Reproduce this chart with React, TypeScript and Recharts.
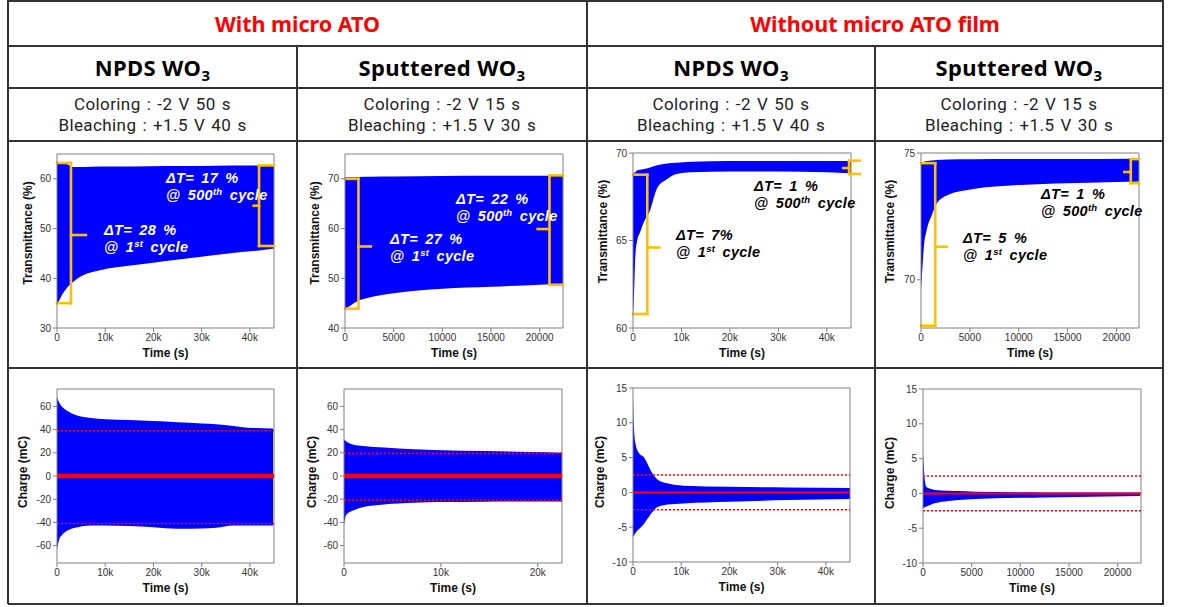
import React from 'react'
import { ComposedChart, Area, XAxis, YAxis, ReferenceLine } from 'recharts'

const BLUE = '#0000ff'
const GOLD = '#ffc000'
const RED = '#ff0000'
const AXIS = '#808080'
const AX_FONT = '"Liberation Sans", Arial, sans-serif'
const TBL_FONT = '"Noto Sans", "Open Sans", sans-serif'
const COND_FONT = 'Roboto, "Noto Sans", sans-serif'

// --- transmittance (%) vs time (s) : lower / upper envelope of the cycling band ---
const timeNpdsAto = [0, 300, 1000, 2000, 3400, 5400, 8900, 15700, 22600, 29500, 36400, 41900, 45000]
const lowNpdsAto = [35.0, 35.3, 36.6, 38.0, 39.3, 40.6, 41.6, 42.6, 43.5, 44.3, 45.1, 45.6, 46.0]
const highNpdsAto = [63.3, 63.3, 63.2, 63.0, 62.4, 62.4, 62.5, 62.5, 62.6, 62.6, 62.7, 62.7, 62.7]

const timeSputAto = [0, 100, 520, 1380, 2600, 5000, 10000, 15000, 20000, 22400]
const lowSputAto = [43.8, 43.9, 44.5, 45.5, 46.2, 47.0, 47.9, 48.3, 48.7, 48.9]
const highSputAto = [70.3, 70.3, 70.3, 70.35, 70.4, 70.45, 70.55, 70.6, 70.65, 70.7]

const timeNpds = [0, 150, 500, 800, 1500, 2500, 3200, 5000, 7000, 9000, 12000, 20000, 30000, 40000, 45000]
const lowNpds = [60.8, 61.5, 64.2, 64.9, 65.5, 66.2, 66.5, 68.0, 68.5, 68.8, 68.9, 68.95, 68.95, 68.9, 68.85]
const highNpds = [68.8, 68.85, 68.9, 69.0, 69.05, 69.1, 69.15, 69.3, 69.4, 69.45, 69.5, 69.55, 69.55, 69.55, 69.55]

const timeSput = [0, 100, 270, 610, 1100, 1600, 2800, 5200, 10100, 15000, 21100, 22300]
const lowSput = [69.6, 70.2, 71.2, 72.0, 72.55, 73.0, 73.35, 73.57, 73.74, 73.81, 73.87, 73.88]
const highSput = [74.6, 74.6, 74.65, 74.68, 74.7, 74.72, 74.74, 74.75, 74.76, 74.76, 74.77, 74.77]

// --- charge (mC) vs time (s) ---
const timeQNpdsAto = [0, 500, 1000, 2000, 4000, 7000, 10000, 15000, 20000, 25000, 30000, 33000, 36500, 40500, 44800]
const lowQNpdsAto = [-62.7, -54, -51, -47.5, -44.5, -42.6, -42.6, -43.2, -44.1, -45.4, -45.2, -44.6, -42.6, -42.6, -42.6]
const highQNpdsAto = [68.2, 63, 60.0, 56.5, 52.4, 50.0, 49.0, 48.2, 47.4, 46.3, 45.3, 44.6, 43.2, 41.4, 40.9]

const timeQSputAto = [0, 200, 600, 1000, 2000, 4100, 7200, 10000, 14400, 19200, 22500]
const lowQSputAto = [-42.6, -34, -31, -29.5, -26.8, -24.5, -23.0, -22.5, -22.1, -21.9, -21.9]
const highQSputAto = [31.7, 30.0, 28.0, 27.0, 25.9, 24.5, 23.0, 22.2, 21.6, 20.7, 20.1]

const timeQNpds = [0, 200, 550, 1200, 2300, 3000, 3700, 5000, 7100, 10500, 20000, 32000, 45000]
const lowQNpds = [-6.45, -6.2, -5.8, -5.3, -4.5, -3.8, -3.1, -2.15, -1.75, -1.58, -1.34, -1.1, -0.96]
const highQNpds = [13.4, 9.3, 6.9, 5.7, 5.0, 4.1, 3.1, 1.9, 1.3, 0.96, 0.81, 0.72, 0.62]

const timeQSput = [0, 170, 340, 860, 1200, 2600, 3600, 5300, 10500, 12200, 22300]
const lowQSput = [-2.15, -2.0, -1.9, -1.6, -1.43, -1.1, -0.95, -0.81, -0.62, -0.58, -0.38]
const highQSput = [5.7, 2.15, 0.96, 0.62, 0.5, 0.38, 0.33, 0.25, 0.16, 0.14, 0.14]

// axis ticks
const ticks45k = [0, 10000, 20000, 30000, 40000]
const ticks22k = [0, 5000, 10000, 15000, 20000]
const ticks22kK = [0, 10000, 20000]
const chargeTicksBig = [-60, -40, -20, 0, 20, 40, 60]
const chargeTicksSmall = [-10, -5, 0, 5, 10, 15]

const kFmt = (v: number) => (v === 0 ? '0' : `${v / 1000}k`)
const plainFmt = (v: number) => String(v)

const rows = (t: number[], lo: number[], hi: number[]) => t.map((x, i) => ({ t: x, band: [lo[i], hi[i]] }))

type Bracket = { x: number; top: number; bottom: number; mid: number; arm: number; tip: number }

// yellow braces (data coords)
const bracesNpdsAto: Bracket[] = [
  { x: 2900, top: 63.2, bottom: 35.0, mid: 48.7, arm: 0, tip: 6000 },
  { x: 41900, top: 62.7, bottom: 46.5, mid: 54.6, arm: 45000, tip: 40800 },
]
const bracesSputAto: Bracket[] = [
  { x: 1380, top: 70.0, bottom: 43.9, mid: 56.4, arm: 0, tip: 2650 },
  { x: 21010, top: 70.7, bottom: 48.7, mid: 59.9, arm: 22400, tip: 19800 },
]
const bracesNpds: Bracket[] = [
  { x: 2950, top: 68.76, bottom: 60.8, mid: 64.6, arm: 0, tip: 5400 },
  { x: 44600, top: 69.56, bottom: 68.8, mid: 69.14, arm: 46800, tip: 43400 },
]
const bracesSput: Bracket[] = [
  { x: 1455, top: 74.6, bottom: 68.19, mid: 71.3, arm: 0, tip: 2640 },
  { x: 21460, top: 74.76, bottom: 73.81, mid: 74.25, arm: 22300, tip: 20800 },
]

type PanelCfg = {
  plot: { left: number; top: number; width: number; height: number }
  data: { t: number; band: number[] }[]
  xMax: number
  xTicks: number[]
  xFmt: (v: number) => string
  yDomain: [number, number]
  yTicks: number[]
  yTitle: string
  titleGap: number
  titleShift: number
  braces?: Bracket[]
  zeroWidth?: number
  dotted?: number[]
}

const ML = 50
const MT = 10

function Panel({ cfg }: { cfg: PanelCfg }) {
  const { plot } = cfg
  const w = plot.width
  const h = plot.height
  const yMax = cfg.yDomain[1]
  const yTitle = () => (
    <text
      x={ML - cfg.titleGap}
      y={MT + h / 2 + cfg.titleShift}
      transform={`rotate(-90 ${ML - cfg.titleGap} ${MT + h / 2 + cfg.titleShift})`}
      textAnchor="middle"
      dominantBaseline="central"
      fontSize={12}
      fontWeight="bold"
      fontFamily={AX_FONT}
      fill="#111"
    >
      {cfg.yTitle}
    </text>
  )
  const xTitle = () => (
    <text
      x={ML + w / 2}
      y={MT + h + 25}
      textAnchor="middle"
      dominantBaseline="central"
      fontSize={12}
      fontWeight="bold"
      fontFamily={AX_FONT}
      fill="#111"
    >
      Time (s)
    </text>
  )
  const tickStyle = { fontSize: 10, fill: '#333', fontFamily: AX_FONT }
  const brace = { stroke: GOLD, strokeWidth: 2.6, strokeLinecap: 'square' as const, ifOverflow: 'visible' as const }
  return (
    <div style={{ position: 'absolute', left: plot.left - ML, top: plot.top - MT }}>
      <ComposedChart
        width={w + ML + 20}
        height={h + MT + 40}
        data={cfg.data}
        margin={{ top: MT, right: 20, bottom: 0, left: 0 }}
      >
        <XAxis
          dataKey="t"
          type="number"
          domain={[0, cfg.xMax]}
          ticks={cfg.xTicks}
          tickFormatter={cfg.xFmt}
          allowDataOverflow
          height={40}
          stroke={AXIS}
          tick={tickStyle}
          tickSize={4}
          tickMargin={2}
          label={xTitle}
        />
        <YAxis
          type="number"
          domain={cfg.yDomain}
          ticks={cfg.yTicks}
          allowDataOverflow
          width={ML}
          stroke={AXIS}
          tick={tickStyle}
          tickSize={4}
          tickMargin={2}
          label={yTitle}
        />
        <Area
          dataKey="band"
          type="monotone"
          fill={BLUE}
          fillOpacity={1}
          stroke="none"
          isAnimationActive={false}
        />
        <ReferenceLine x={cfg.xMax} stroke={AXIS} />
        <ReferenceLine y={yMax} stroke={AXIS} />
        {cfg.dotted?.map((v) => (
          <ReferenceLine key={`d${v}`} y={v} stroke={RED} strokeWidth={1.6} strokeDasharray="2 2" />
        ))}
        {cfg.zeroWidth ? <ReferenceLine y={0} stroke={RED} strokeWidth={cfg.zeroWidth} /> : null}
        {cfg.braces?.map((b, i) => [
          <ReferenceLine key={`a${i}`} segment={[{ x: b.arm, y: b.top }, { x: b.x, y: b.top }]} {...brace} />,
          <ReferenceLine key={`v${i}`} segment={[{ x: b.x, y: b.top }, { x: b.x, y: b.bottom }]} {...brace} />,
          <ReferenceLine key={`b${i}`} segment={[{ x: b.arm, y: b.bottom }, { x: b.x, y: b.bottom }]} {...brace} />,
          <ReferenceLine key={`m${i}`} segment={[{ x: b.x, y: b.mid }, { x: b.tip, y: b.mid }]} {...brace} />,
        ])}
      </ComposedChart>
    </div>
  )
}

const panels: PanelCfg[] = [
  {
    plot: { left: 57, top: 154, width: 217, height: 174 },
    data: rows(timeNpdsAto, lowNpdsAto, highNpdsAto),
    xMax: 45000, xTicks: ticks45k, xFmt: kFmt,
    yDomain: [30, 65], yTicks: [30, 40, 50, 60],
    yTitle: 'Transmittance (%)', titleGap: 29, titleShift: -8,
    braces: bracesNpdsAto,
  },
  {
    plot: { left: 345, top: 154, width: 218, height: 174 },
    data: rows(timeSputAto, lowSputAto, highSputAto),
    xMax: 22400, xTicks: ticks22k, xFmt: plainFmt,
    yDomain: [40, 75], yTicks: [40, 50, 60, 70],
    yTitle: 'Transmittance (%)', titleGap: 30, titleShift: -8,
    braces: bracesSputAto,
  },
  {
    plot: { left: 633, top: 153, width: 218, height: 175 },
    data: rows(timeNpds, lowNpds, highNpds),
    xMax: 45000, xTicks: ticks45k, xFmt: kFmt,
    yDomain: [60, 70], yTicks: [60, 65, 70],
    yTitle: 'Transmittance (%)', titleGap: 30, titleShift: -9,
    braces: bracesNpds,
  },
  {
    plot: { left: 921, top: 153, width: 218, height: 175 },
    data: rows(timeSput, lowSput, highSput),
    xMax: 22300, xTicks: ticks22k, xFmt: plainFmt,
    yDomain: [68.1, 75], yTicks: [70, 75],
    yTitle: 'Transmittance (%)', titleGap: 31, titleShift: -9,
    braces: bracesSput,
  },
  {
    plot: { left: 57, top: 389, width: 217, height: 174 },
    data: rows(timeQNpdsAto, lowQNpdsAto, highQNpdsAto),
    xMax: 45000, xTicks: ticks45k, xFmt: kFmt,
    yDomain: [-75, 75], yTicks: chargeTicksBig,
    yTitle: 'Charge (mC)', titleGap: 34, titleShift: -4,
    zeroWidth: 4.5, dotted: [39, -41],
  },
  {
    plot: { left: 344, top: 389, width: 218, height: 174 },
    data: rows(timeQSputAto, lowQSputAto, highQSputAto),
    xMax: 22500, xTicks: ticks22kK, xFmt: kFmt,
    yDomain: [-75, 75], yTicks: chargeTicksBig,
    yTitle: 'Charge (mC)', titleGap: 32, titleShift: -4,
    zeroWidth: 4.5, dotted: [19.5, -21],
  },
  {
    plot: { left: 633, top: 388, width: 217, height: 174 },
    data: rows(timeQNpds, lowQNpds, highQNpds),
    xMax: 45000, xTicks: ticks45k, xFmt: kFmt,
    yDomain: [-10, 15], yTicks: chargeTicksSmall,
    yTitle: 'Charge (mC)', titleGap: 33, titleShift: -3,
    zeroWidth: 2, dotted: [2.5, -2.5],
  },
  {
    plot: { left: 923, top: 389, width: 218, height: 174 },
    data: rows(timeQSput, lowQSput, highQSput),
    xMax: 22400, xTicks: ticks22k, xFmt: plainFmt,
    yDomain: [-10, 15], yTicks: chargeTicksSmall,
    yTitle: 'Charge (mC)', titleGap: 33, titleShift: -3,
    zeroWidth: 2, dotted: [2.5, -2.5],
  },
]

type NoteCfg = { x: number; base: number; color: string; delta: string; nth: string; sup: string }

const notes: NoteCfg[] = [
  { x: 166, base: 183, color: '#fff', delta: 'ΔT= 17 %', nth: '500', sup: 'th' },
  { x: 104, base: 235, color: '#fff', delta: 'ΔT= 28 %', nth: '1', sup: 'st' },
  { x: 456, base: 204, color: '#fff', delta: 'ΔT= 22 %', nth: '500', sup: 'th' },
  { x: 390, base: 244, color: '#fff', delta: 'ΔT= 27 %', nth: '1', sup: 'st' },
  { x: 754, base: 191, color: '#000', delta: 'ΔT= 1 %', nth: '500', sup: 'th' },
  { x: 676, base: 240, color: '#000', delta: 'ΔT= 7%', nth: '1', sup: 'st' },
  { x: 1041, base: 199, color: '#000', delta: 'ΔT= 1 %', nth: '500', sup: 'th' },
  { x: 963, base: 243, color: '#000', delta: 'ΔT= 5 %', nth: '1', sup: 'st' },
]

const NOTE_SIZE = 14.5

function Note({ n }: { n: NoteCfg }) {
  const s: React.CSSProperties = {
    position: 'absolute',
    left: n.x,
    fontFamily: AX_FONT,
    fontWeight: 'bold',
    fontStyle: 'italic',
    fontSize: NOTE_SIZE,
    lineHeight: '16px',
    wordSpacing: 3,
    letterSpacing: 0.3,
    color: n.color,
    whiteSpace: 'pre',
  }
  return (
    <>
      <div style={{ ...s, top: n.base - 13 }}>{n.delta}</div>
      <div style={{ ...s, top: n.base + 4 }}>
        {'@ ' + n.nth}
        <span style={{ fontSize: 9.5, position: 'relative', top: -5 }}>{n.sup}</span>
        {' cycle'}
      </div>
    </>
  )
}

const LINE = '#333'
const X_EDGES = [8, 297, 587, 875, 1163]
const Y_EDGES = [1, 46, 88, 141, 368, 604]

const groupTitles = ['With micro ATO', 'Without micro ATO film']
const filmNames = ['NPDS', 'Sputtered', 'NPDS', 'Sputtered']
const coloring = ['Coloring : -2 V 50 s', 'Coloring : -2 V 15 s', 'Coloring : -2 V 50 s', 'Coloring : -2 V 15 s']
const bleaching = ['Bleaching : +1.5 V 40 s', 'Bleaching : +1.5 V 30 s', 'Bleaching : +1.5 V 40 s', 'Bleaching : +1.5 V 30 s']

function Cell({ x1, x2, y1, y2, children, style }: { x1: number; x2: number; y1: number; y2: number; children: React.ReactNode; style?: React.CSSProperties }) {
  return (
    <div
      style={{
        position: 'absolute', left: x1, top: y1, width: x2 - x1, height: y2 - y1,
        display: 'flex', flexDirection: 'column', alignItems: 'center', justifyContent: 'center',
        fontFamily: TBL_FONT, ...style,
      }}
    >
      {children}
    </div>
  )
}

export default function App() {
  const lines: React.ReactNode[] = []
  Y_EDGES.forEach((y, i) =>
    lines.push(<div key={`h${i}`} style={{ position: 'absolute', left: 8, top: y - 1, width: 1156, height: 2, background: LINE }} />),
  )
  X_EDGES.forEach((x, i) => {
    const top = i === 1 || i === 3 ? 46 : 1
    lines.push(<div key={`v${i}`} style={{ position: 'absolute', left: x - 1, top: top - 1, width: 2, height: 605 - top, background: LINE }} />)
  })
  return (
    <div style={{ position: 'absolute', left: 0, top: 0, width: 1187, height: 607, background: '#fff', overflow: 'hidden' }}>
      {groupTitles.map((g, i) => (
        <Cell key={g} x1={X_EDGES[i * 2]} x2={X_EDGES[i * 2 + 2]} y1={1} y2={46} style={{ color: '#ff0000', fontWeight: 'bold', fontSize: 21.5 }}>
          {g}
        </Cell>
      ))}
      {filmNames.map((f, i) => (
        <Cell key={`f${i}`} x1={X_EDGES[i]} x2={X_EDGES[i + 1]} y1={46} y2={88} style={{ color: '#000', fontWeight: 'bold', fontSize: 22, letterSpacing: 0.4 }}>
          <div style={{ whiteSpace: 'pre' }}>
            {f} WO<sub style={{ fontSize: 15, verticalAlign: 'sub', lineHeight: 0 }}>3</sub>
          </div>
        </Cell>
      ))}
      {coloring.map((c, i) => (
        <Cell
          key={`c${i}`}
          x1={X_EDGES[i]}
          x2={X_EDGES[i + 1]}
          y1={88}
          y2={141}
          style={{ color: '#222', fontFamily: COND_FONT, fontSize: 17, lineHeight: '21px', letterSpacing: 0.4, wordSpacing: 1.5 }}
        >
          <div>{c}</div>
          <div>{bleaching[i]}</div>
        </Cell>
      ))}
      {panels.map((p, i) => (
        <Panel key={i} cfg={p} />
      ))}
      {notes.map((n, i) => (
        <Note key={i} n={n} />
      ))}
      {lines}
    </div>
  )
}
